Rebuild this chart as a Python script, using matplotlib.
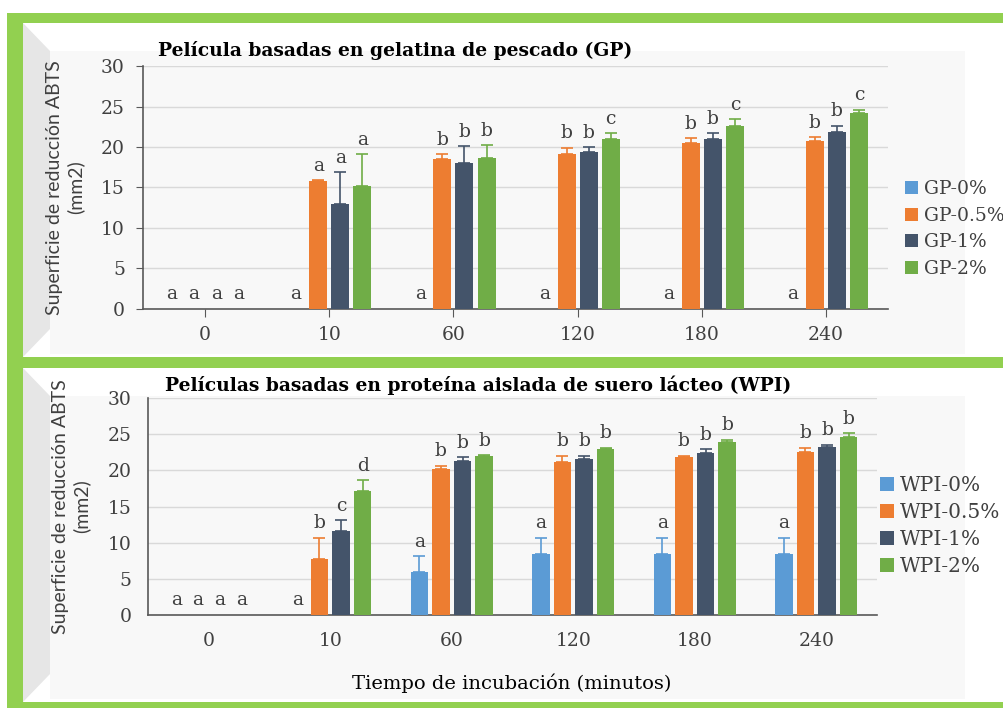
import numpy as np
import matplotlib.pyplot as plt
from matplotlib.patches import Rectangle, Polygon

# Datos
tiempos = ['0', '10', '60', '120', '180', '240']

gp_labels = ['GP-0%', 'GP-0.5%', 'GP-1%', 'GP-2%']
gp_0 = [0, 0, 0, 0, 0, 0]
gp_05 = [0, 15.8, 18.5, 19.1, 20.5, 20.7]
gp_1 = [0, 13.0, 18.0, 19.4, 21.0, 21.8]
gp_2 = [0, 15.2, 18.7, 21.0, 22.6, 24.2]
gp_err_0 = [0, 0, 0, 0, 0, 0]
gp_err_05 = [0, 0.1, 0.6, 0.8, 0.6, 0.5]
gp_err_1 = [0, 3.9, 2.1, 0.55, 0.7, 0.8]
gp_err_2 = [0, 3.9, 1.5, 0.7, 0.8, 0.4]
gp_let_0 = ['a', 'a', 'a', 'a', 'a', 'a']
gp_let_05 = ['a', 'a', 'b', 'b', 'b', 'b']
gp_let_1 = ['a', 'a', 'b', 'b', 'b', 'b']
gp_let_2 = ['a', 'a', 'b', 'c', 'c', 'c']

wpi_labels = ['WPI-0%', 'WPI-0.5%', 'WPI-1%', 'WPI-2%']
wpi_0 = [0, 0, 5.9, 8.5, 8.5, 8.5]
wpi_05 = [0, 7.7, 20.2, 21.1, 21.9, 22.5]
wpi_1 = [0, 11.6, 21.3, 21.6, 22.4, 23.2]
wpi_2 = [0, 17.2, 22.0, 23.0, 23.9, 24.6]
wpi_err_0 = [0, 0, 2.2, 2.2, 2.2, 2.2]
wpi_err_05 = [0, 3.0, 0.4, 0.9, 0.1, 0.6]
wpi_err_1 = [0, 1.5, 0.5, 0.45, 0.5, 0.35]
wpi_err_2 = [0, 1.4, 0.1, 0.1, 0.3, 0.5]
wpi_let_0 = ['a', 'a', 'a', 'a', 'a', 'a']
wpi_let_05 = ['a', 'b', 'b', 'b', 'b', 'b']
wpi_let_1 = ['a', 'c', 'b', 'b', 'b', 'b']
wpi_let_2 = ['a', 'd', 'b', 'b', 'b', 'b']

colores = ['#5B9BD5', '#ED7D31', '#44546A', '#70AD47']
gris = '#404040'
W, H = 1004, 708


def fx(px):
    return px / W


def fy(py):
    return 1 - py / H


fig = plt.figure(figsize=(10.04, 7.08), dpi=100)
fig.patch.set_facecolor('white')

# marco verde y paneles
fig.patches.append(Rectangle((fx(7), 0), 1, fy(13), transform=fig.transFigure,
                             facecolor='#92D050', edgecolor='none', zorder=-3))
for top, bot in [(23, 357), (368, 702)]:
    fig.patches.append(Rectangle((fx(23), fy(bot)), 1, (bot - top) / H, transform=fig.transFigure,
                                 facecolor='white', edgecolor='none', zorder=-2))
    fig.patches.append(Polygon([(fx(23), fy(top)), (fx(50), fy(top + 28)), (fx(50), fy(bot - 28)),
                                (fx(23), fy(bot))], closed=True, transform=fig.transFigure,
                               facecolor='#E6E6E6', edgecolor='none', zorder=-1))
    fig.patches.append(Rectangle((fx(50), fy(bot - 3)), fx(965 - 50), (bot - 3 - top - 28) / H,
                                 transform=fig.transFigure, facecolor='#F8F8F8', edgecolor='none', zorder=-1))


def panel(rect, series, errs, letras, nombres, xticks_marks):
    ax = fig.add_axes(rect)
    ax.set_facecolor('none')
    x = np.arange(len(tiempos))
    paso = 0.178
    ancho = 0.145
    for i, (vals, err, lets) in enumerate(zip(series, errs, letras)):
        pos = x + (i - 1.5) * paso
        ax.bar(pos, vals, ancho, color=colores[i], label=nombres[i], zorder=3)
        vals = np.array(vals, dtype=float)
        err = np.array(err, dtype=float)
        m = vals > 0
        ax.errorbar(pos[m], vals[m], yerr=[np.zeros(m.sum()), err[m]], fmt='none',
                    ecolor=colores[i], elinewidth=1.2, capsize=4.5, capthick=1.2, zorder=4)
        for p, v, e, l in zip(pos, vals, err, lets):
            ax.annotate(l, (p, v + e), xytext=(0, 4), textcoords='offset points',
                        ha='center', va='bottom', fontsize=13.5, color=gris, family='DejaVu Serif')
    ax.set_xlim(-0.5, 5.5)
    ax.set_ylim(0, 30)
    ax.set_yticks(range(0, 31, 5))
    ax.set_xticks(x)
    ax.set_xticklabels(tiempos)
    ax.grid(axis='y', color='#D9D9D9', linewidth=1, zorder=0)
    for s in ['top', 'right']:
        ax.spines[s].set_visible(False)
    ax.spines['left'].set_color('#595959')
    ax.spines['bottom'].set_color('#595959')
    ax.spines['left'].set_linewidth(1.2)
    ax.spines['bottom'].set_linewidth(1.2)
    ax.tick_params(axis='y', length=5 if xticks_marks else 0, color='#595959', labelsize=13.5,
                   labelcolor=gris, pad=8 if xticks_marks else 12)
    ax.tick_params(axis='x', length=6 if xticks_marks else 0, color='#595959', labelsize=13.5,
                   labelcolor=gris, pad=6 if xticks_marks else 12)
    for t in ax.get_xticklabels() + ax.get_yticklabels():
        t.set_family('DejaVu Serif')
    ax.set_ylabel('Superficie de reducción ABTS\n(mm2)', fontsize=14, color=gris, family='Lato',
                  labelpad=12, linespacing=1.25)
    return ax


ax1 = panel([fx(143), fy(309), fx(888 - 143), (309 - 66) / H],
            [gp_0, gp_05, gp_1, gp_2], [gp_err_0, gp_err_05, gp_err_1, gp_err_2],
            [gp_let_0, gp_let_05, gp_let_1, gp_let_2], gp_labels, True)
ax2 = panel([fx(148), fy(615), fx(877 - 148), (615 - 398) / H],
            [wpi_0, wpi_05, wpi_1, wpi_2], [wpi_err_0, wpi_err_05, wpi_err_1, wpi_err_2],
            [wpi_let_0, wpi_let_05, wpi_let_1, wpi_let_2], wpi_labels, False)

fig.text(fx(395), fy(50), 'Película basadas en gelatina de pescado (GP)', ha='center', va='center',
         fontsize=13.5, fontweight='bold', color='black', family='DejaVu Serif')
fig.text(fx(478), fy(385), 'Películas basadas en proteína aislada de suero lácteo (WPI)', ha='center',
         va='center', fontsize=13.5, fontweight='bold', color='black', family='DejaVu Serif')
fig.text(fx(512), fy(683), 'Tiempo de incubación (minutos)', ha='center', va='center',
         fontsize=14, color='black', family='DejaVu Serif')

h1, l1 = ax1.get_legend_handles_labels()
fig.legend(h1, l1, loc='center left', bbox_to_anchor=(fx(905), fy(229)), frameon=False,
           handlelength=0.7, handleheight=0.7, handletextpad=0.3, labelspacing=0.45, borderpad=0,
           borderaxespad=0, prop={'family': 'DejaVu Serif', 'size': 13.5}, labelcolor=gris)
h2, l2 = ax2.get_legend_handles_labels()
fig.legend(h2, l2, loc='center left', bbox_to_anchor=(fx(880), fy(526)), frameon=False,
           handlelength=0.7, handleheight=0.7, handletextpad=0.3, labelspacing=0.4, borderpad=0,
           borderaxespad=0, prop={'family': 'DejaVu Serif', 'size': 14.5}, labelcolor=gris)

fig.savefig('out.png', dpi=100)
